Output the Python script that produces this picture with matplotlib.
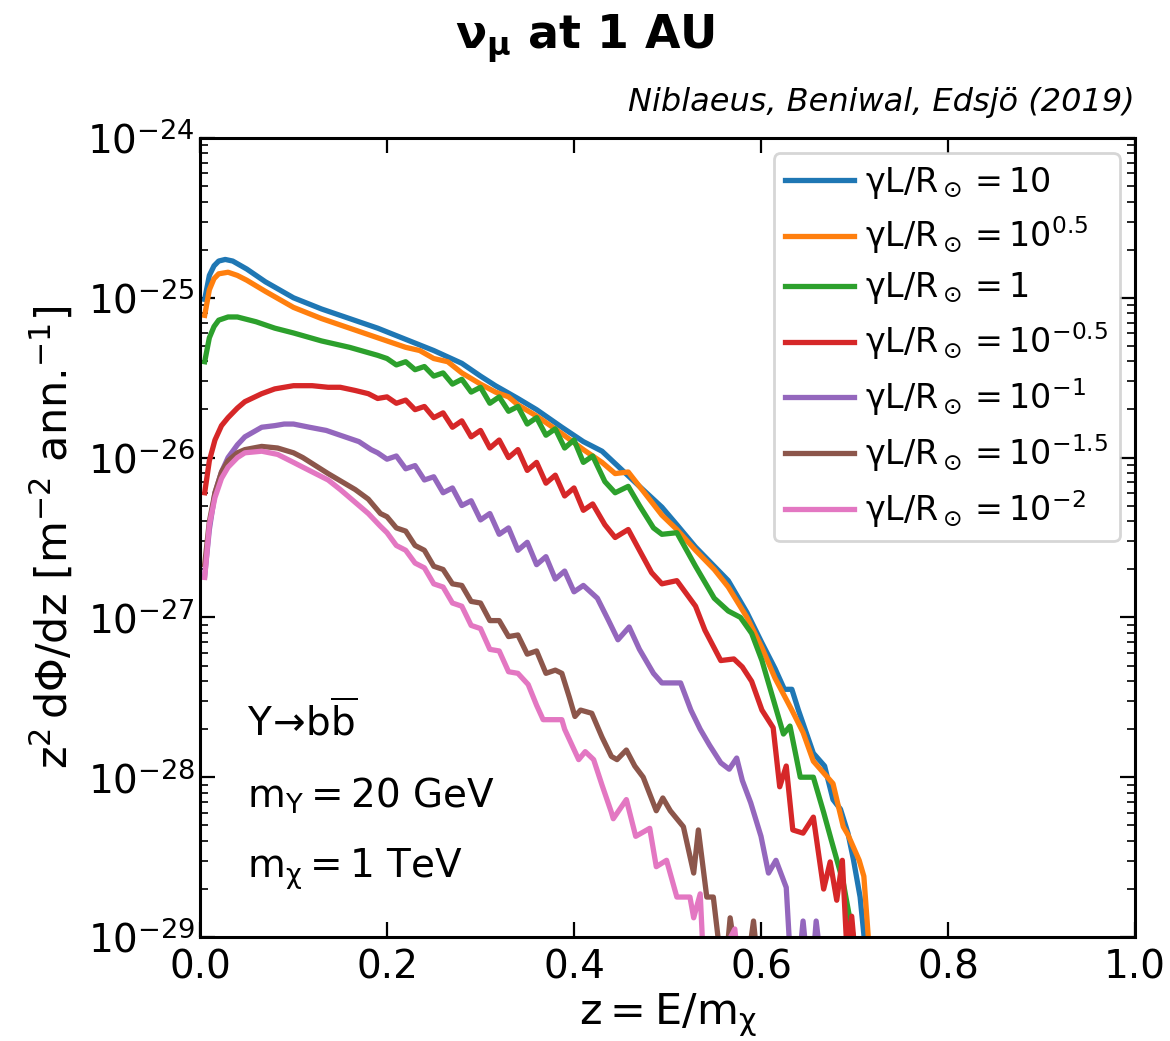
import matplotlib
matplotlib.use("Agg")
import matplotlib.pyplot as plt
import numpy as np

plt.rcParams['font.family'] = ['DejaVu Sans']
plt.rcParams['mathtext.default'] = 'regular'

# ---- data: z = E/m_chi and log10(z^2 dPhi/dz) ----
z_10 = [0.005, 0.01, 0.015, 0.02, 0.027, 0.035, 0.05, 0.07, 0.10, 0.13, 0.16, 0.19, 0.22, 0.25,
        0.28, 0.30, 0.316, 0.34, 0.36, 0.387, 0.41, 0.43, 0.45, 0.47, 0.494, 0.51, 0.53, 0.55,
        0.565, 0.585, 0.601, 0.615, 0.625, 0.633, 0.64, 0.656, 0.668, 0.677, 0.685, 0.693,
        0.699, 0.706, 0.712]
l_10 = [-25.01, -24.86, -24.80, -24.77, -24.76, -24.77, -24.82, -24.90, -25.00, -25.07, -25.13,
        -25.19, -25.26, -25.33, -25.41, -25.49, -25.55, -25.63, -25.70, -25.81, -25.90, -25.96,
        -26.07, -26.18, -26.31, -26.42, -26.56, -26.68, -26.77, -26.97, -27.16, -27.32, -27.45,
        -27.45, -27.58, -27.85, -27.93, -28.14, -28.20, -28.35, -28.52, -28.75, -29.10]

z_105 = [0.005, 0.01, 0.015, 0.02, 0.03, 0.04, 0.05, 0.07, 0.10, 0.13, 0.16, 0.19, 0.22, 0.235,
         0.25, 0.265, 0.28, 0.30, 0.316, 0.33, 0.34, 0.36, 0.387, 0.41, 0.43, 0.444, 0.458, 0.47,
         0.494, 0.51, 0.53, 0.55, 0.565, 0.585, 0.601, 0.615, 0.633, 0.645, 0.656, 0.668, 0.677,
         0.688, 0.693, 0.699, 0.705, 0.71, 0.716]
l_105 = [-25.11, -24.95, -24.88, -24.85, -24.84, -24.86, -24.89, -24.96, -25.06, -25.13, -25.19,
         -25.25, -25.31, -25.33, -25.38, -25.40, -25.47, -25.54, -25.59, -25.62, -25.67, -25.74,
         -25.85, -25.95, -26.03, -26.10, -26.09, -26.18, -26.36, -26.45, -26.58, -26.70, -26.81,
         -27.00, -27.19, -27.38, -27.58, -27.72, -27.90, -27.98, -28.04, -28.31, -28.36, -28.44,
         -28.52, -28.62, -29.10]

z_1 = [0.005, 0.01, 0.015, 0.02, 0.03, 0.04, 0.06, 0.08, 0.10, 0.13, 0.16, 0.19, 0.20, 0.21,
       0.22, 0.23, 0.24, 0.25, 0.26, 0.27, 0.28, 0.29, 0.30, 0.31, 0.32, 0.33, 0.34, 0.35, 0.36,
       0.37, 0.38, 0.39, 0.40, 0.41, 0.42, 0.433, 0.444, 0.458, 0.47, 0.485, 0.494, 0.51, 0.53,
       0.55, 0.565, 0.578, 0.59, 0.601, 0.615, 0.624, 0.631, 0.642, 0.656, 0.667, 0.675, 0.688,
       0.697, 0.703]
l_1 = [-25.40, -25.25, -25.18, -25.14, -25.12, -25.12, -25.15, -25.19, -25.22, -25.27, -25.31,
       -25.36, -25.38, -25.42, -25.40, -25.45, -25.43, -25.49, -25.47, -25.54, -25.51, -25.59,
       -25.56, -25.66, -25.62, -25.71, -25.68, -25.79, -25.75, -25.86, -25.82, -25.94, -25.89,
       -26.03, -25.99, -26.15, -26.22, -26.18, -26.30, -26.44, -26.48, -26.47, -26.68, -26.88,
       -26.96, -27.00, -27.10, -27.27, -27.55, -27.73, -27.68, -28.00, -28.00, -28.22, -28.39,
       -28.66, -28.95, -29.10]

z_10m05 = [0.005, 0.01, 0.016, 0.023, 0.03, 0.04, 0.048, 0.066, 0.08, 0.10, 0.12, 0.137, 0.15,
           0.166, 0.18, 0.19, 0.20, 0.21, 0.22, 0.23, 0.24, 0.25, 0.26, 0.27, 0.28, 0.29, 0.30,
           0.31, 0.32, 0.33, 0.34, 0.35, 0.36, 0.37, 0.38, 0.39, 0.40, 0.41, 0.42, 0.433, 0.444,
           0.458, 0.47, 0.483, 0.494, 0.51, 0.53, 0.54, 0.557, 0.571, 0.58, 0.59, 0.601, 0.613,
           0.62, 0.627, 0.634, 0.645, 0.656, 0.667, 0.674, 0.681, 0.687, 0.692, 0.697, 0.702]
l_10m05 = [-26.22, -26.02, -25.89, -25.80, -25.75, -25.69, -25.65, -25.60, -25.57, -25.55,
           -25.55, -25.56, -25.56, -25.58, -25.60, -25.63, -25.62, -25.66, -25.64, -25.70,
           -25.68, -25.75, -25.72, -25.81, -25.77, -25.87, -25.83, -25.94, -25.89, -26.00,
           -25.95, -26.08, -26.03, -26.16, -26.11, -26.24, -26.19, -26.33, -26.29, -26.42,
           -26.50, -26.45, -26.58, -26.72, -26.79, -26.77, -26.93, -27.08, -27.27, -27.26,
           -27.31, -27.40, -27.58, -27.69, -28.06, -27.93, -28.33, -28.35, -28.25, -28.70,
           -28.53, -28.77, -28.52, -29.10, -28.87, -29.20]

z_10m1 = [0.005, 0.01, 0.016, 0.023, 0.03, 0.04, 0.048, 0.066, 0.08, 0.09, 0.10, 0.117, 0.135,
          0.155, 0.17, 0.183, 0.19, 0.20, 0.21, 0.22, 0.23, 0.24, 0.25, 0.26, 0.27, 0.28, 0.29,
          0.30, 0.31, 0.32, 0.33, 0.34, 0.35, 0.36, 0.37, 0.38, 0.39, 0.40, 0.41, 0.425, 0.437,
          0.447, 0.459, 0.47, 0.485, 0.494, 0.514, 0.525, 0.535, 0.545, 0.557, 0.566, 0.574,
          0.58, 0.589, 0.60, 0.608, 0.616, 0.627, 0.632, 0.64, 0.645, 0.65, 0.655, 0.659, 0.665]
l_10m1 = [-26.74, -26.45, -26.22, -26.09, -26.00, -25.92, -25.87, -25.81, -25.80, -25.79,
          -25.79, -25.81, -25.83, -25.87, -25.90, -25.95, -25.97, -26.01, -25.99, -26.07,
          -26.05, -26.14, -26.12, -26.22, -26.19, -26.30, -26.27, -26.39, -26.35, -26.48,
          -26.44, -26.58, -26.53, -26.67, -26.62, -26.76, -26.71, -26.84, -26.80, -26.88,
          -27.02, -27.14, -27.06, -27.20, -27.35, -27.41, -27.41, -27.58, -27.70, -27.80,
          -27.91, -27.95, -27.88, -28.02, -28.16, -28.37, -28.60, -28.52, -28.69, -29.20,
          -29.20, -28.90, -29.20, -29.20, -28.90, -29.20]

z_10m15 = [0.005, 0.01, 0.016, 0.023, 0.03, 0.04, 0.048, 0.066, 0.083, 0.10, 0.11, 0.137, 0.166,
           0.18, 0.193, 0.20, 0.21, 0.22, 0.23, 0.24, 0.25, 0.26, 0.27, 0.28, 0.29, 0.30, 0.31,
           0.32, 0.33, 0.34, 0.35, 0.36, 0.37, 0.38, 0.387, 0.395, 0.401, 0.407, 0.419, 0.43,
           0.44, 0.446, 0.456, 0.465, 0.474, 0.488, 0.495, 0.503, 0.517, 0.528, 0.533, 0.542,
           0.549, 0.556, 0.562, 0.567, 0.575, 0.585, 0.592, 0.597]
l_10m15 = [-26.67, -26.40, -26.22, -26.09, -26.02, -25.97, -25.95, -25.93, -25.94, -25.97,
           -26.00, -26.10, -26.20, -26.26, -26.35, -26.37, -26.44, -26.46, -26.55, -26.58,
           -26.68, -26.70, -26.79, -26.80, -26.90, -26.91, -27.02, -27.02, -27.12, -27.11,
           -27.23, -27.21, -27.35, -27.33, -27.35, -27.50, -27.62, -27.58, -27.60, -27.75,
           -27.87, -27.89, -27.83, -27.93, -28.00, -28.21, -28.13, -28.21, -28.31, -28.60,
           -28.33, -28.75, -28.75, -29.10, -29.20, -28.88, -29.20, -29.20, -28.90, -29.20]

z_10m2 = [0.005, 0.01, 0.016, 0.023, 0.03, 0.04, 0.048, 0.066, 0.083, 0.10, 0.11, 0.137, 0.15,
          0.166, 0.18, 0.193, 0.20, 0.21, 0.22, 0.23, 0.24, 0.25, 0.26, 0.27, 0.28, 0.29, 0.30,
          0.31, 0.32, 0.33, 0.34, 0.351, 0.36, 0.367, 0.387, 0.39, 0.405, 0.412, 0.421, 0.43,
          0.44, 0.442, 0.456, 0.466, 0.481, 0.488, 0.499, 0.51, 0.524, 0.528, 0.535, 0.538,
          0.55, 0.572, 0.576]
l_10m2 = [-26.75, -26.42, -26.25, -26.13, -26.06, -26.00, -25.97, -25.96, -25.98, -26.03,
          -26.06, -26.14, -26.20, -26.28, -26.35, -26.43, -26.47, -26.55, -26.58, -26.66,
          -26.69, -26.79, -26.81, -26.91, -26.93, -27.05, -27.07, -27.20, -27.21, -27.34,
          -27.35, -27.42, -27.55, -27.64, -27.64, -27.70, -27.89, -27.84, -27.89, -28.05,
          -28.22, -28.26, -28.14, -28.37, -28.32, -28.56, -28.52, -28.75, -28.75, -28.88,
          -28.73, -29.10, -29.20, -28.95, -29.20]

labels = [r'$\gamma L/R_\odot = 10$', r'$\gamma L/R_\odot = 10^{0.5}$', r'$\gamma L/R_\odot = 1$',
          r'$\gamma L/R_\odot = 10^{-0.5}$', r'$\gamma L/R_\odot = 10^{-1}$',
          r'$\gamma L/R_\odot = 10^{-1.5}$', r'$\gamma L/R_\odot = 10^{-2}$']
colors = ['#1f77b4', '#ff7f0e', '#2ca02c', '#d62728', '#9467bd', '#8c564b', '#e377c2']
series = [(z_10, l_10), (z_105, l_105), (z_1, l_1), (z_10m05, l_10m05), (z_10m1, l_10m1),
          (z_10m15, l_10m15), (z_10m2, l_10m2)]

fig = plt.figure(figsize=(11.70, 10.41), dpi=100)
ax = fig.add_axes([200/1170, 1 - 937/1041, 935/1170, 799/1041])

for (zz, ll), lab, c in zip(series, labels, colors):
    ax.plot(zz, 10.0 ** np.array(ll), color=c, lw=3.8, label=lab)

ax.set_yscale('log')
ax.set_xlim(0, 1.0)
ax.set_ylim(1e-29, 1e-24)
ax.set_xticks([0.0, 0.2, 0.4, 0.6, 0.8, 1.0])
ax.tick_params(which='both', direction='in', top=True, right=True, labelsize=28)
ax.tick_params(which='major', length=11, width=1.6)
ax.tick_params(which='minor', length=6, width=1.2)
ax.tick_params(axis='x', which='minor', bottom=False, top=False)
ax.tick_params(axis='x', pad=8)
for sp in ax.spines.values():
    sp.set_linewidth(2.2)

ax.set_xlabel(r'$z = E/m_\chi$', fontsize=31, labelpad=4)
ax.set_ylabel(r'$z^2\,d\Phi/dz$ [m$^{-2}$ ann.$^{-1}$]', fontsize=31, labelpad=8)

leg = ax.legend(loc='upper right', fontsize=24, handlelength=2.05, labelspacing=0.42,
                borderpad=0.35, handletextpad=0.35, framealpha=0.8, fancybox=True,
                borderaxespad=0.45)
leg.get_frame().set_linewidth(2.0)
leg.get_frame().set_edgecolor('#cccccc')

ax.text(0.05, 0.252, r'$\Upsilon\!\rightarrow\!b\overline{b}$', transform=ax.transAxes, fontsize=28)
ax.text(0.05, 0.162, r'$m_\Upsilon = 20$ GeV', transform=ax.transAxes, fontsize=28)
ax.text(0.05, 0.074, r'$m_\chi = 1$ TeV', transform=ax.transAxes, fontsize=28)

ax.text(1.0, 1.025, 'Niblaeus, Beniwal, Edsjö (2019)', transform=ax.transAxes, ha='right',
        va='bottom', fontsize=23, style='italic')

fig.suptitle(r'$\boldsymbol{\nu_\mu}$ at 1 AU', fontsize=33, fontweight='bold', x=0.5, y=0.988)

fig.savefig('out.png', dpi=100)
